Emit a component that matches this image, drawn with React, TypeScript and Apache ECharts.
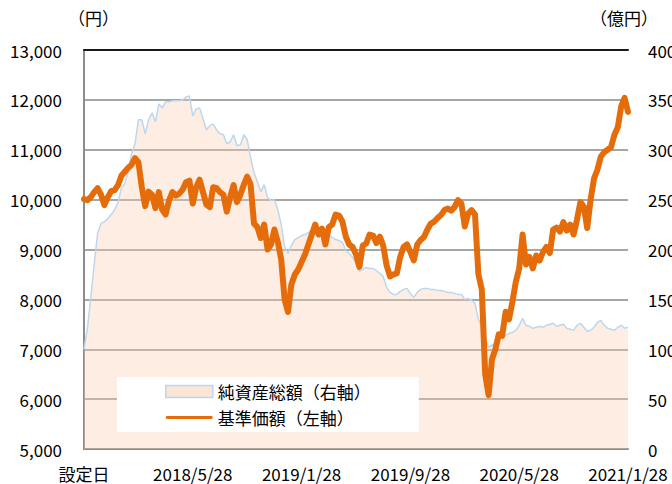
import React, { useEffect, useRef } from "react";
import * as echarts from "echarts";

// Time step between samples: a quarter of a month, starting at the setup date (2017/9/28)
const MONTH_STEP = 0.25;
const LABEL_EVERY_MONTHS = 8;
const TOTAL_MONTHS = 40;

const X_LABELS = ["設定日", "2018/5/28", "2019/1/28", "2019/9/28", "2020/5/28", "2021/1/28"];

// 基準価額 (円) — left axis
const NAV = [
  10010, 9990, 10050, 10150, 10230, 10100, 9890, 10050, 10170, 10190,
  10290, 10480, 10560, 10640, 10700, 10830, 10750, 10250, 9870, 10160,
  10100, 9830, 10150, 9800, 9700, 9980, 10150, 10080, 10120, 10200,
  10350, 10380, 9920, 10250, 10400, 10150, 9900, 9850, 10250, 10230,
  10150, 10100, 9760, 10050, 10290, 9950, 10100, 10300, 10460, 10300,
  9520, 9450, 9230, 9500, 9000, 9100, 9400, 9150, 8800, 8000,
  7750, 8300, 8500, 8600, 8750, 8900, 9100, 9300, 9500, 9300,
  9420, 9100, 9450, 9500, 9700, 9680, 9560, 9260, 9100, 9050,
  8900, 8650, 9080, 9120, 9300, 9280, 9130, 9260, 9080, 8680,
  8460, 8500, 8520, 8850, 9050, 9100, 8950, 8780, 9100, 9190,
  9250, 9400, 9520, 9560, 9630, 9690, 9790, 9820, 9780, 9850,
  9990, 9920, 9460, 9720, 9790, 9700, 8500, 8200, 6500, 6080,
  6800, 7000, 7300, 7270, 7750, 7600, 7950, 8350, 8620, 9300,
  8700, 8850, 8620, 8880, 8780, 8950, 9050, 8930, 9400, 9440,
  9360, 9550, 9380, 9500, 9300, 9600, 9950, 9860, 9430, 10000,
  10420, 10600, 10860, 10950, 11000, 11050, 11300, 11450, 11870, 12040,
  11760,
];

// 純資産総額 (億円) — right axis
const ASSETS = [
  100, 121, 152, 185, 216, 226, 228, 231, 235, 240,
  247, 262, 266, 278, 296, 306, 330, 330, 316, 330,
  337, 328, 346, 342, 348, 348, 349, 349, 349, 350,
  353, 354, 334, 341, 342, 331, 320, 324, 326, 320,
  316, 315, 306, 308, 315, 304, 305, 315, 310, 292,
  277, 268, 258, 265, 252, 249, 250, 240, 225, 203,
  196, 204, 210, 212, 214, 215, 217, 219, 220, 220,
  221, 219, 215, 212, 210, 209, 207, 199, 196, 192,
  186, 178, 180, 182, 181, 181, 179, 176, 173, 162,
  157, 155, 155, 158, 160, 161, 156, 152, 157, 160,
  161, 161, 160, 160, 159, 159, 158, 157, 157, 156,
  155, 155, 150, 151, 149, 146, 130, 122, 110, 102,
  104, 106, 110, 112, 114, 116, 117, 119, 124, 131,
  124, 123, 121, 122, 123, 122, 124, 125, 126, 123,
  124, 125, 121, 120, 119, 124, 126, 122, 118, 119,
  122, 127, 129, 124, 121, 120, 119, 122, 124, 121,
  122,
];

const LEFT_MIN = 5000;
const LEFT_MAX = 13000;
const LEFT_STEP = 1000;
const RIGHT_MIN = 0;
const RIGHT_MAX = 400;
const RIGHT_STEP = 50;

const LEFT_UNIT = "（円）";
const RIGHT_UNIT = "（億円）";

const SERIES_ASSETS = "純資産総額（右軸）";
const SERIES_NAV = "基準価額（左軸）";

const FONT = "'Noto Sans CJK JP', 'Noto Sans', sans-serif";

export default function App() {
  const ref = useRef<HTMLDivElement>(null);

  useEffect(() => {
    if (!ref.current) return;
    const chart = echarts.init(ref.current, null, { renderer: "svg" });

    const navData = NAV.map((v, i) => [i * MONTH_STEP, v]);
    const assetData = ASSETS.map((v, i) => [i * MONTH_STEP, v]);

    const labelStyle = { color: "#000", fontSize: 17, fontFamily: FONT };

    chart.setOption({
      animation: false,
      backgroundColor: "#fff",
      textStyle: { fontFamily: FONT },
      grid: {
        left: 84,
        right: 44,
        top: 50,
        bottom: 35,
        containLabel: false,
        outerBoundsMode: "none",
      },
      graphic: [
        {
          type: "text",
          left: 68,
          top: 9,
          style: { text: LEFT_UNIT, fill: "#000", fontSize: 17, fontFamily: FONT },
        },
        {
          type: "text",
          left: 590,
          top: 9,
          style: { text: RIGHT_UNIT, fill: "#000", fontSize: 17, fontFamily: FONT },
        },
      ],
      legend: {
        left: 117,
        top: 377,
        orient: "vertical",
        backgroundColor: "#fff",
        padding: [6, 48, 6, 48],
        itemGap: 9,
        itemWidth: 47,
        itemHeight: 12,
        textStyle: { color: "#000", fontSize: 17, fontFamily: FONT, lineHeight: 17 },
        data: [
          {
            name: SERIES_ASSETS,
            icon: "rect",
            itemStyle: { color: "#FBE5D6", borderColor: "#BDD7EE", borderWidth: 1.5 },
          },
          {
            name: SERIES_NAV,
            icon: "path://M3,0H97A3,3,0,0,1,97,6H3A3,3,0,0,1,3,0Z",
            itemStyle: { color: "#E46C0A", borderWidth: 0 },
          },
        ],
      },
      xAxis: [
        {
          type: "value",
          min: 0,
          max: TOTAL_MONTHS,
          interval: LABEL_EVERY_MONTHS,
          axisLine: { show: true, lineStyle: { color: "#8c8c8c", width: 2 } },
          axisTick: { show: false },
          splitLine: { show: false },
          axisLabel: {
            ...labelStyle,
            margin: 16,
            formatter: (v: number) => X_LABELS[Math.round(v / LABEL_EVERY_MONTHS)] ?? "",
          },
        },
        {
          type: "value",
          position: "top",
          min: 0,
          max: TOTAL_MONTHS,
          interval: LABEL_EVERY_MONTHS,
          axisLine: { show: true, lineStyle: { color: "#1a1a1a", width: 2 } },
          axisTick: { show: false },
          axisLabel: { show: false },
          splitLine: { show: false },
        },
      ],
      yAxis: [
        {
          type: "value",
          position: "left",
          min: LEFT_MIN,
          max: LEFT_MAX,
          interval: LEFT_STEP,
          axisLine: { show: true, lineStyle: { color: "#8c8c8c", width: 2 } },
          axisTick: { show: false },
          splitLine: { show: true, lineStyle: { color: "#a6a6a6", width: 2 } },
          axisLabel: {
            ...labelStyle,
            margin: 22,
            formatter: (v: number) => v.toLocaleString("en-US"),
          },
        },
        {
          type: "value",
          position: "right",
          min: RIGHT_MIN,
          max: RIGHT_MAX,
          interval: RIGHT_STEP,
          axisLine: { show: true, lineStyle: { color: "#8c8c8c", width: 2 } },
          axisTick: { show: false },
          splitLine: { show: false },
          axisLabel: { ...labelStyle, margin: 20 },
        },
      ],
      series: [
        {
          name: SERIES_ASSETS,
          type: "line",
          xAxisIndex: 0,
          yAxisIndex: 1,
          data: assetData,
          symbol: "none",
          showSymbol: false,
          z: 1,
          lineStyle: { color: "#BDD7EE", width: 1.5 },
          itemStyle: { color: "#FBE5D6" },
          areaStyle: { color: "rgba(248,203,173,0.5)", origin: "start" },
        },
        {
          name: SERIES_NAV,
          type: "line",
          xAxisIndex: 0,
          yAxisIndex: 0,
          data: navData,
          symbol: "none",
          showSymbol: false,
          z: 3,
          lineStyle: { color: "#E46C0A", width: 6, join: "round", cap: "round" },
          itemStyle: { color: "#E46C0A" },
        },
      ],
    });

    return () => chart.dispose();
  }, []);

  return (
    <div
      ref={ref}
      style={{ position: "fixed", left: 0, top: 0, width: 672, height: 484 }}
    />
  );
}
